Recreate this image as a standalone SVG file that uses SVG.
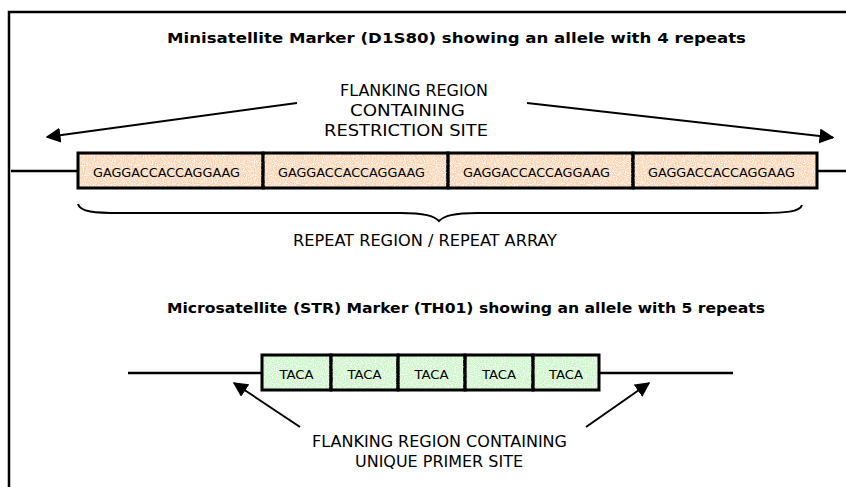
<svg xmlns="http://www.w3.org/2000/svg" width="846" height="487" viewBox="0 0 846 487">
<style>
text{font-family:"DejaVu Sans Condensed","DejaVu Sans","Liberation Sans",sans-serif;fill:#000}
.title{font-size:14px;font-weight:bold}
.lbl{font-size:15px}
.seq{font-size:13px}
.line{stroke:#000;stroke-width:2.5;fill:none}
.arr{stroke:#000;stroke-width:2;fill:none}
.mini{fill:#f9d4b3;stroke:#000;stroke-width:3}
.micro{fill:#ccf4c8;stroke:#000;stroke-width:3}
.speck{fill:#fff;filter:url(#noise)}
</style>
<defs>
<marker id="ah" viewBox="0 0 10 10" refX="9" refY="5" markerWidth="7.5" markerHeight="7.5" markerUnits="strokeWidth" orient="auto">
<path d="M0,0 L10,5 L0,10 Z" fill="#000"/>
</marker>
<filter id="noise" x="0" y="0" width="1" height="1">
<feTurbulence type="fractalNoise" baseFrequency="0.9" numOctaves="1" seed="4" result="n"/>
<feColorMatrix in="n" type="matrix" values="0 0 0 0 1  0 0 0 0 1  0 0 0 0 1  0 0 0 -3 1.75" result="w"/>
<feComposite in="w" in2="SourceGraphic" operator="in"/>
</filter>
</defs>
<rect width="846" height="487" fill="#fff"/>
<g id="frame">
<path d="M9,487 L9,12 L846,12" fill="none" stroke="#000" stroke-width="2.5"/>
</g>
<g id="titles">
<text class="title" x="167" y="43" textLength="579" lengthAdjust="spacingAndGlyphs">Minisatellite Marker (D1S80) showing an allele with 4 repeats</text>
<text class="title" x="167" y="313" textLength="598" lengthAdjust="spacingAndGlyphs">Microsatellite (STR) Marker (TH01) showing an allele with 5 repeats</text>
</g>
<g id="connectors">
<line class="line" x1="11" y1="171" x2="78" y2="171"/>
<line class="line" x1="817" y1="171" x2="846" y2="171"/>
<line class="arr" x1="297" y1="103" x2="47" y2="137" marker-end="url(#ah)"/>
<line class="arr" x1="527" y1="103" x2="833" y2="137.5" marker-end="url(#ah)"/>
<path class="arr" d="M78,204 C80,212 95,213 120,213 L400,213 C425,213 434,216 439,221 C444,216 453,213 478,213 L760,213 C785,213 800,212 802,205"/>
<line class="line" x1="128" y1="373" x2="262" y2="373"/>
<line class="line" x1="599" y1="373" x2="733" y2="373"/>
<line class="arr" x1="300" y1="427" x2="234" y2="383" marker-end="url(#ah)"/>
<line class="arr" x1="586" y1="427" x2="649" y2="383" marker-end="url(#ah)"/>
</g>
<g id="minisatellite">
<rect class="mini" x="78" y="153" width="185" height="35"/>
<rect class="mini" x="263" y="153" width="185" height="35"/>
<rect class="mini" x="448" y="153" width="185" height="35"/>
<rect class="mini" x="633" y="153" width="184" height="35"/>
<rect class="speck" x="80" y="155" width="735" height="31"/>
<path d="M263,153 V188 M448,153 V188 M633,153 V188" stroke="#000" stroke-width="3"/>
<text class="seq" x="93" y="177" textLength="147" lengthAdjust="spacingAndGlyphs">GAGGACCACCAGGAAG</text>
<text class="seq" x="278" y="177" textLength="147" lengthAdjust="spacingAndGlyphs">GAGGACCACCAGGAAG</text>
<text class="seq" x="463" y="177" textLength="147" lengthAdjust="spacingAndGlyphs">GAGGACCACCAGGAAG</text>
<text class="seq" x="648" y="177" textLength="147" lengthAdjust="spacingAndGlyphs">GAGGACCACCAGGAAG</text>
</g>
<g id="flank-mini">
<text class="lbl" x="340" y="96" textLength="148" lengthAdjust="spacingAndGlyphs">FLANKING REGION</text>
<text class="lbl" x="350" y="116" textLength="115" lengthAdjust="spacingAndGlyphs">CONTAINING</text>
<text class="lbl" x="324" y="136" textLength="164" lengthAdjust="spacingAndGlyphs">RESTRICTION SITE</text>
</g>
<g id="repeat-label">
<text class="lbl" x="293" y="246" textLength="264" lengthAdjust="spacingAndGlyphs">REPEAT REGION / REPEAT ARRAY</text>
</g>
<g id="microsatellite">
<rect class="micro" x="262" y="355" width="69" height="35"/>
<rect class="micro" x="331" y="355" width="67" height="35"/>
<rect class="micro" x="398" y="355" width="67" height="35"/>
<rect class="micro" x="465" y="355" width="68" height="35"/>
<rect class="micro" x="533" y="355" width="66" height="35"/>
<rect class="speck" x="264" y="357" width="333" height="31"/>
<path d="M331,355 V390 M398,355 V390 M465,355 V390 M533,355 V390" stroke="#000" stroke-width="3"/>
<text class="seq" x="296.5" y="379" text-anchor="middle" textLength="34" lengthAdjust="spacingAndGlyphs">TACA</text>
<text class="seq" x="364.5" y="379" text-anchor="middle" textLength="34" lengthAdjust="spacingAndGlyphs">TACA</text>
<text class="seq" x="431.5" y="379" text-anchor="middle" textLength="34" lengthAdjust="spacingAndGlyphs">TACA</text>
<text class="seq" x="499" y="379" text-anchor="middle" textLength="34" lengthAdjust="spacingAndGlyphs">TACA</text>
<text class="seq" x="566" y="379" text-anchor="middle" textLength="34" lengthAdjust="spacingAndGlyphs">TACA</text>
</g>
<g id="flank-micro">
<text class="lbl" x="312" y="447" textLength="255" lengthAdjust="spacingAndGlyphs">FLANKING REGION CONTAINING</text>
<text class="lbl" x="355" y="467" textLength="168" lengthAdjust="spacingAndGlyphs">UNIQUE PRIMER SITE</text>
</g>
</svg>
